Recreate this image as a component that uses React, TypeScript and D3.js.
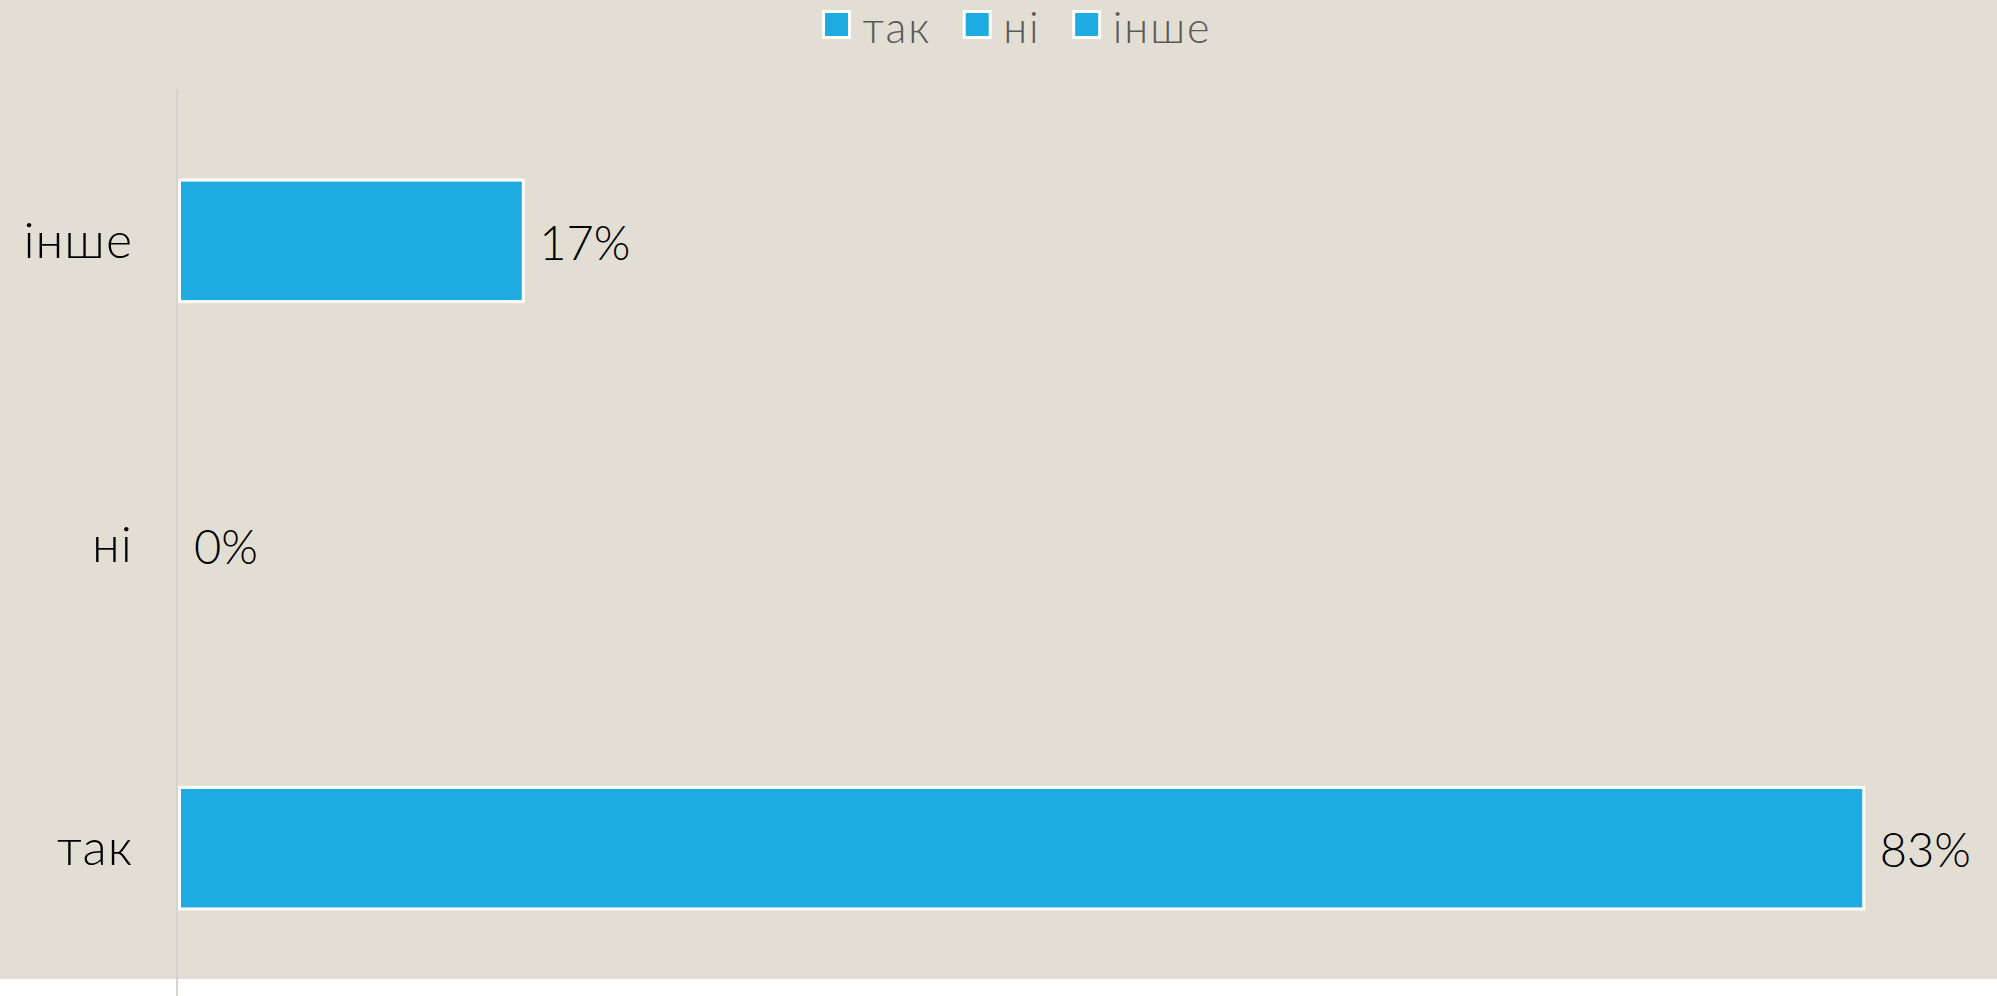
import * as d3 from "d3";
import React, { useEffect, useRef } from "react";

// chart data
const categories = ["інше", "ні", "так"];
const values = [17, 0, 83];
const legendLabels = ["так", "ні", "інше"];

const width = 1997;
const height = 996;
const bgHeight = 979;

const barColor = "#1DABE2";
const bgColor = "#E3DED3";

export default function App() {
  const ref = useRef<SVGSVGElement>(null);

  useEffect(() => {
    const svg = d3.select(ref.current);
    svg.selectAll("*").remove();

    const y = d3
      .scaleBand()
      .domain(categories)
      .range([89, 1000])
      .paddingInner(0.6)
      .paddingOuter(0.3);

    const x = d3.scaleLinear().domain([0, 100]).range([178, 2209]);

    svg
      .append("rect")
      .attr("width", width)
      .attr("height", bgHeight)
      .attr("fill", bgColor);

    // vertical axis line
    svg
      .append("line")
      .attr("x1", 177)
      .attr("x2", 177)
      .attr("y1", 89)
      .attr("y2", height)
      .attr("stroke", "#D6D3CE")
      .attr("stroke-width", 2);

    const rows = categories.map((c, i) => ({ name: c, value: values[i] }));

    // bars
    svg
      .append("g")
      .selectAll("rect")
      .data(rows.filter((d) => d.value > 0))
      .join("rect")
      .attr("x", x(0) + 1.5)
      .attr("y", (d) => y(d.name)!)
      .attr("width", (d) => x(d.value) - x(0) - 1.5)
      .attr("height", y.bandwidth())
      .attr("fill", barColor)
      .attr("stroke", "#fff")
      .attr("stroke-width", 3);

    // value labels
    svg
      .append("g")
      .selectAll("text")
      .data(rows)
      .join("text")
      .attr("x", (d) => x(d.value) + 16)
      .attr("y", (d) => y(d.name)! + y.bandwidth() / 2 + 19)
      .attr("font-family", "Lato, sans-serif")
      .attr("font-weight", 300)
      .attr("font-size", 47)
      .attr("fill", "#000")
      .text((d) => `${d.value}%`);

    // category labels
    svg
      .append("g")
      .selectAll("text")
      .data(categories)
      .join("text")
      .attr("x", 133)
      .attr("y", (d) => y(d)! + y.bandwidth() / 2 + 17)
      .attr("text-anchor", "end")
      .attr("font-family", "Lato, sans-serif")
      .attr("font-weight", 300)
      .attr("font-size", 50)
      .attr("letter-spacing", 1)
      .attr("fill", "#000")
      .text((d) => d);

    // legend
    const legend = svg.append("g");
    let lx = 823.5;
    legendLabels.forEach((label) => {
      legend
        .append("rect")
        .attr("x", lx)
        .attr("y", 11.5)
        .attr("width", 26)
        .attr("height", 26)
        .attr("fill", barColor)
        .attr("stroke", "#fff")
        .attr("stroke-width", 3);
      const t = legend
        .append("text")
        .attr("x", lx + 39)
        .attr("y", 43)
        .attr("font-family", "Lato, sans-serif")
        .attr("font-weight", 300)
        .attr("font-size", 43)
        .attr("letter-spacing", 2)
        .attr("fill", "#595959")
        .text(label);
      const w = (t.node() as SVGTextElement).getComputedTextLength();
      lx += 39 + w + 33;
    });
  }, []);

  return (
    <svg
      ref={ref}
      width={width}
      height={height}
      style={{ position: "absolute", left: 0, top: 0, display: "block" }}
    />
  );
}
